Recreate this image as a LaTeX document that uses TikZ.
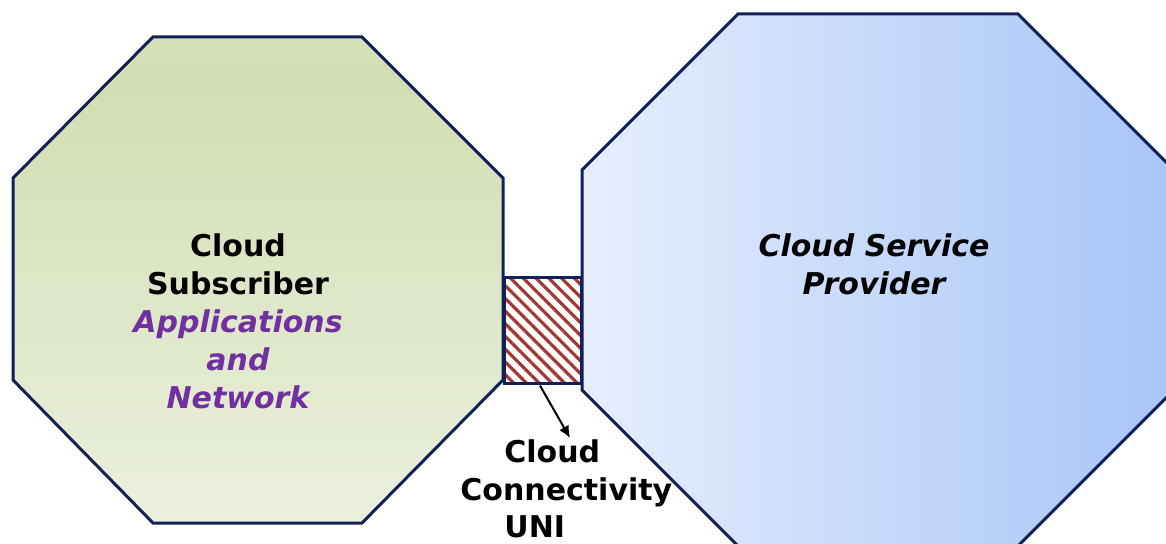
\documentclass[tikz,border=0pt]{standalone}
\usepackage{fontspec}
\setmainfont{DejaVu Sans}
\usepackage{tikz}
\usetikzlibrary{positioning,arrows.meta,patterns.meta}

\definecolor{octborder}{RGB}{18,32,88}
\definecolor{subtop}{RGB}{219,228,194}
\definecolor{submid}{RGB}{210,222,179}
\definecolor{subbot}{RGB}{248,250,244}
\definecolor{provleft}{RGB}{230,238,253}
\definecolor{provright}{RGB}{166,197,247}
\definecolor{appviolet}{RGB}{112,48,160}
\definecolor{hatchred}{RGB}{165,55,50}

\pgfdeclareverticalshading{subshade}{100bp}{color(0bp)=(subbot); color(70bp)=(submid); color(100bp)=(subtop)}

\tikzset{
  octa/.style={draw=octborder, line width=1.5pt, line join=miter},
  lbl/.style={font=\fontsize{15}{19}\selectfont\bfseries, align=center, inner sep=0pt},
  unibox/.style={draw=octborder, line width=1.5pt, fill=white,
    pattern={Lines[angle=-45,distance=4.5pt,line width=1.6pt]}, pattern color=hatchred,
    minimum width=38.5pt, minimum height=53pt, inner sep=0pt},
}

\begin{document}
\begin{tikzpicture}[x=0.5pt,y=-0.5pt]
	\useasboundingbox (0,0) rectangle (1166,544);
	\clip (0,0) rectangle (1166,544);
	% provider
	\draw[octa, left color=provleft, right color=provright]
		(738,14) -- (1018,14) -- (1174,170) -- (1174,390) -- (1018,546)
		-- (738,546) -- (582,390) -- (582,170) -- cycle;
	% subscriber
	\draw[octa, shading=subshade]
		(153,37) -- (362,37) -- (503,178) -- (503,380) -- (362,523)
		-- (153,523) -- (13,380) -- (13,178) -- cycle;
	\node(uni) [unibox] at (542.5,331) {};
	\node(cust) [lbl,anchor=base] at (238,409)
		{Cloud\\Subscriber\\\color{appviolet}\itshape Applications\\\color{appviolet}\itshape and\\\color{appviolet}\itshape Network};
	\node(prov) [lbl,anchor=base] at (874,295) {\itshape Cloud Service\\\itshape Provider};
	\node(uni1) [lbl,anchor=base west] at (504,463) {Cloud};
	\node(uni2) [lbl,below=18.75pt of uni1.base west,anchor=base west,xshift=-22pt] {Connectivity};
	\node(uni3) [lbl,below=18.75pt of uni1.base west,anchor=base west,yshift=-18.75pt] {UNI};
	\coordinate (tip) at (570,438);
	\draw[-{Latex[length=6pt,width=5.5pt]},line width=1pt] (uni.south) ++(-2.5,0) -- (tip);
\end{tikzpicture}
\end{document}
